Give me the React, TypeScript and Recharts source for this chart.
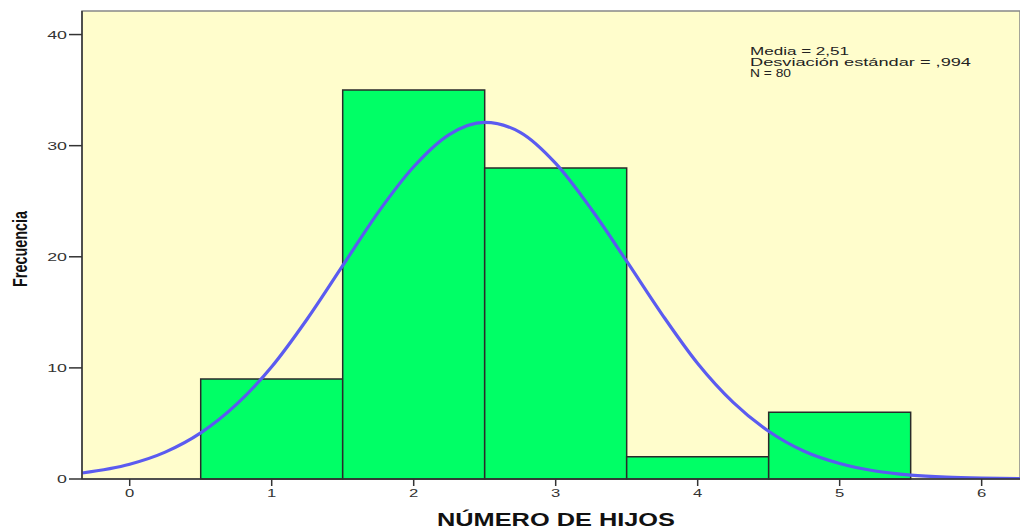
import React from "react";
import {
  ComposedChart,
  Line,
  XAxis,
  YAxis,
  ReferenceArea,
} from "recharts";

// Histogram bins (NÚMERO DE HIJOS)
const binLower = [0.5, 1.5, 2.5, 3.5, 4.5];
const binUpper = [1.5, 2.5, 3.5, 4.5, 5.5];
const frequencies = [9, 35, 28, 2, 6];

// Normal curve
const curveX = [-0.336, 0, 0.25, 0.5, 0.75, 1, 1.25, 1.5, 1.75, 2, 2.25, 2.5, 2.75, 3, 3.25, 3.5, 3.75, 4, 4.25, 4.5, 4.75, 5, 5.25, 5.5, 5.75, 6, 6.27];
const curveY = [0.54, 1.33, 2.42, 4.15, 6.69, 10.1, 14.4, 19.2, 24.0, 28.1, 31.0, 32.1, 31.2, 28.4, 24.3, 19.6, 14.8, 10.4, 6.9, 4.3, 2.5, 1.4, 0.72, 0.35, 0.16, 0.07, 0.03];

const xTicks = [0, 1, 2, 3, 4, 5, 6];
const yTicks = [0, 10, 20, 30, 40];
const xDomain = [-0.336, 6.27];
const yDomain = [0, 42.12];

const statsLines = ["Media = 2,51", "Desviación estándar = ,994", "N = 80"];
const statsWidths = [99, 221, 41];

const FONT = "'Liberation Sans', Arial, Helvetica, sans-serif";

const curveData = curveX.map((x, i) => ({ x, y: curveY[i] }));

const YTick = (props: any) => {
  const { x, y, payload } = props;
  return (
    <g transform={`translate(${x},${y})`}>
      <text
        transform="scale(1.55,1)"
        textAnchor="end"
        dy="0.36em"
        fontSize={11.5}
        fontFamily={FONT}
        fill="#333"
      >
        {payload.value}
      </text>
    </g>
  );
};

const XTick = (props: any) => {
  const { x, y, payload } = props;
  return (
    <g transform={`translate(${x},${y})`}>
      <text
        transform="scale(1.45,1)"
        textAnchor="middle"
        dy={9}
        fontSize={11.5}
        fontFamily={FONT}
        fill="#333"
      >
        {payload.value}
      </text>
    </g>
  );
};

export default function App() {
  return (
    <div style={{ position: "absolute", left: 0, top: 0, width: 1020, height: 529, background: "#fff" }}>
      <ComposedChart
        width={1020}
        height={529}
        data={curveData}
        margin={{ top: 11, right: 0, bottom: 0, left: 0 }}
      >
        <XAxis
          type="number"
          dataKey="x"
          domain={xDomain}
          allowDataOverflow
          ticks={xTicks}
          interval={0}
          height={50}
          tickSize={7}
          tick={<XTick />}
          axisLine={{ stroke: "#333", strokeWidth: 1.5 }}
          tickLine={{ stroke: "#333", strokeWidth: 1.5 }}
        />
        <YAxis
          type="number"
          domain={yDomain}
          allowDataOverflow
          ticks={yTicks}
          interval={0}
          width={82}
          tickSize={13}
          tick={<YTick />}
          axisLine={{ stroke: "#333", strokeWidth: 1.5 }}
          tickLine={{ stroke: "#333", strokeWidth: 1.5 }}
        />
        <ReferenceArea
          x1={xDomain[0]}
          x2={xDomain[1]}
          y1={yDomain[0]}
          y2={yDomain[1]}
          fill="#FFFDCC"
          fillOpacity={1}
          stroke="#888"
          strokeWidth={1.5}
          ifOverflow="visible"
        />
        {frequencies.map((f, i) => (
          <ReferenceArea
            key={i}
            x1={binLower[i]}
            x2={binUpper[i]}
            y1={0}
            y2={f}
            fill="#00FF66"
            fillOpacity={1}
            stroke="#2a2a2a"
            strokeWidth={1.5}
            ifOverflow="visible"
          />
        ))}
        <Line
          type="monotone"
          dataKey="y"
          stroke="#5B5BF0"
          strokeWidth={3.2}
          dot={false}
          activeDot={false}
          isAnimationActive={false}
        />
      </ComposedChart>
      <svg
        width={1020}
        height={529}
        style={{ position: "absolute", left: 0, top: 0, pointerEvents: "none" }}
      >
        {statsLines.map((t, i) => (
          <text
            key={i}
            x={750}
            y={54.5 + i * 11.2}
            fontSize={10}
            fontFamily={FONT}
            fill="#222"
            textLength={statsWidths[i]}
            lengthAdjust="spacingAndGlyphs"
          >
            {t}
          </text>
        ))}
        <text
          x={20}
          y={249}
          transform="rotate(-90, 20, 249)"
          textAnchor="middle"
          dy="0.36em"
          fontSize={20}
          fontWeight="bold"
          fontFamily={FONT}
          fill="#111"
          textLength={76}
          lengthAdjust="spacingAndGlyphs"
        >
          Frecuencia
        </text>
        <text
          x={437}
          y={526}
          fontSize={19}
          fontWeight="bold"
          fontFamily={FONT}
          fill="#111"
          textLength={238}
          lengthAdjust="spacingAndGlyphs"
        >
          NÚMERO DE HIJOS
        </text>
      </svg>
    </div>
  );
}
